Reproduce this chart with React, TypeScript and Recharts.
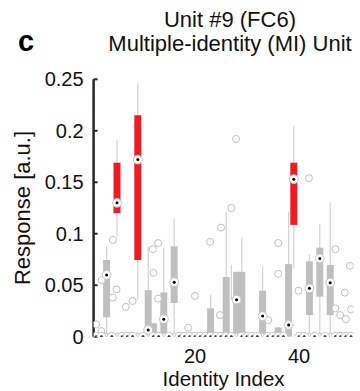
import React from 'react';
import { ScatterChart, Scatter, XAxis, YAxis, ErrorBar } from 'recharts';

// ---- data ----
const identityIndex = [
  1, 2, 3, 4, 5, 6, 7, 8, 9, 10, 11, 12, 13, 14, 15, 16, 17, 18, 19, 20, 21, 22, 23, 24, 25,
  26, 27, 28, 29, 30, 31, 32, 33, 34, 35, 36, 37, 38, 39, 40, 41, 42, 43, 44, 45, 46, 47, 48, 49, 50,
];
const medianResponse = [
  0, 0, 0.06, 0, 0.13, 0, 0, 0, 0.172, 0, 0.0065, 0, 0, 0.017, 0, 0.053, 0, 0, 0, 0, 0, 0, 0, 0, 0,
  0, 0, 0.036, 0, 0, 0, 0, 0.02, 0, 0, 0, 0, 0.0114, 0.153, 0, 0, 0.047, 0, 0.076, 0, 0.0525, 0, 0, 0, 0,
];

const boxIndex = [3, 5, 9, 11, 12, 14, 16, 23, 26, 27, 28, 29, 33, 36, 38, 39, 42, 44, 46];
const boxQ1 = [0.0188, 0.12, 0.0745, 0, 0, 0, 0.0327, 0, 0, 0, 0, 0, 0, 0, 0, 0.1086, 0.021, 0.0389, 0.021];
const boxQ3 = [0.0745, 0.169, 0.215, 0.0452, 0.013, 0.043, 0.0877, 0.0276, 0.058, 0, 0.063, 0.063, 0.0447, 0.009, 0.0706, 0.169, 0.0732, 0.0865, 0.0697];
const whiskerLow = [0, 0.097, 0.036, 0, 0, 0, 0, 0, 0, 0.0356, 0, 0, 0, 0, 0, 0.066, 0, 0, 0];
const whiskerHigh = [0.088, 0.191, 0.246, 0.0875, 0.013, 0.086, 0.115, 0.0405, 0.121, 0.07, 0.063, 0.096, 0.068, 0.009, 0.1215, 0.205, 0.08, 0.1095, 0.13];
const selectiveIndex = [5, 9, 39];

const zeroOutlierIndex = [3, 5, 9, 11, 14, 16, 28, 33, 42, 44, 46];
const outlierX = [1, 2, 2.05, 4.2, 4.2, 4.9, 6.7, 8, 11.9, 12, 12.9, 12.9, 18.7, 20, 22.9, 24.8, 25, 27, 27.9, 34.1, 36, 36, 39.9, 41.9, 47, 47, 47.9, 48.8, 49, 49.8, 50];
const outlierY = [0.012, 0.0055, 0.055, 0.094, 0.038, 0.046, 0.029, 0.0347, 0.085, 0.062, 0.091, 0.037, 0.0088, 0.0396, 0.092, 0.021, 0.106, 0.125, 0.192, 0.016, 0.091, 0.061, 0.0447, 0.154, 0.085, 0.0276, 0.021, 0.0428, 0.017, 0.0687, 0.0266];

const yTicks = [0, 0.05, 0.1, 0.15, 0.2, 0.25];
const xTicks = [20, 40];

const FONT = "'Liberation Sans', Arial, Helvetica, sans-serif";
const GREY = '#bfbfbf';
const RED = '#ed1c24';

const Empty = () => <g />;

const MedianMark = (p: any) => (
  <g>
    <circle cx={p.cx} cy={p.cy} r={4.4} fill="#fff" stroke="#c4c4c4" strokeWidth={1} />
    <circle cx={p.cx} cy={p.cy} r={1.5} fill="#000" />
  </g>
);

const OutlierMark = (p: any) => (
  <circle cx={p.cx} cy={p.cy} r={3.5} fill="#fff" stroke="#c0c0c0" strokeWidth={1} />
);

export default function App() {
  const whiskerData = boxIndex
    .map((x, i) => ({ x, y: whiskerLow[i], err: [0, whiskerHigh[i] - whiskerLow[i]] }))
    .filter((d) => d.err[1] > 0);
  const boxRows = boxIndex
    .map((x, i) => ({ x, y: boxQ1[i], err: [0, boxQ3[i] - boxQ1[i]], red: selectiveIndex.includes(x) }))
    .filter((d) => d.err[1] > 0);
  const greyBoxes = boxRows.filter((d) => !d.red);
  const redBoxes = boxRows.filter((d) => d.red);
  const medians = identityIndex.map((x, i) => ({ x, y: medianResponse[i] }));
  const outliers = outlierX.map((x, i) => ({ x, y: outlierY[i] }));
  const zeroOutliers = zeroOutlierIndex.map((x) => ({ x, y: 0 }));

  return (
    <div style={{ position: 'absolute', left: 0, top: 0, width: 360, height: 391, background: '#fff' }}>
      <ScatterChart width={360} height={391} margin={{ top: 79.3, right: 6.4, bottom: 0, left: 0 }}>
        <XAxis
          type="number"
          dataKey="x"
          domain={[0.5, 50.5]}
          ticks={xTicks}
          allowDataOverflow
          axisLine={false}
          tickLine={false}
          tickSize={0}
          tickMargin={12.5}
          height={54.3}
          tick={{ fontSize: 20, fill: '#111', fontFamily: FONT }}
          label={{ value: 'Identity Index', position: 'insideBottom', offset: 4.6, fontSize: 20.5, fill: '#111', fontFamily: FONT }}
        />
        <YAxis
          type="number"
          dataKey="y"
          domain={[0, 0.25]}
          ticks={yTicks}
          interval={0}
          allowDataOverflow
          width={93.6}
          axisLine={{ stroke: '#262626', strokeWidth: 2.5 }}
          tickLine={{ stroke: '#262626', strokeWidth: 2 }}
          tickSize={-4}
          tickMargin={14}
          tick={{ fontSize: 20, fill: '#111', fontFamily: FONT }}
          label={{
            value: 'Response [a.u.]',
            angle: -90,
            position: 'insideLeft',
            offset: 22,
            style: { textAnchor: 'middle' },
            fontSize: 22,
            fill: '#111',
            fontFamily: FONT,
          }}
        />
        <Scatter data={whiskerData} shape={Empty} isAnimationActive={false}>
          <ErrorBar dataKey="err" direction="y" width={0} stroke="#d3d3d3" strokeWidth={1.2} isAnimationActive={false} />
        </Scatter>
        <Scatter data={greyBoxes} shape={Empty} isAnimationActive={false}>
          <ErrorBar dataKey="err" direction="y" width={0} stroke={GREY} strokeWidth={7} isAnimationActive={false} />
        </Scatter>
        <Scatter data={redBoxes} shape={Empty} isAnimationActive={false}>
          <ErrorBar dataKey="err" direction="y" width={0} stroke={RED} strokeWidth={7} isAnimationActive={false} />
        </Scatter>
        <Scatter data={outliers} shape={OutlierMark} isAnimationActive={false} />
        <Scatter data={zeroOutliers} shape={OutlierMark} isAnimationActive={false} />
        <Scatter data={medians} shape={MedianMark} isAnimationActive={false} />
      </ScatterChart>
      <svg width={360} height={391} style={{ position: 'absolute', left: 0, top: 0, pointerEvents: 'none' }}>
        <text x={18} y={51} fontFamily={FONT} fontWeight="bold" fontSize={29} fill="#000">c</text>
        <text x={230} y={27} textAnchor="middle" fontFamily={FONT} fontSize={22} fill="#111">Unit #9 (FC6)</text>
        <text x={230} y={51} textAnchor="middle" fontFamily={FONT} fontSize={22} fill="#111">Multiple-identity (MI) Unit</text>
      </svg>
    </div>
  );
}
